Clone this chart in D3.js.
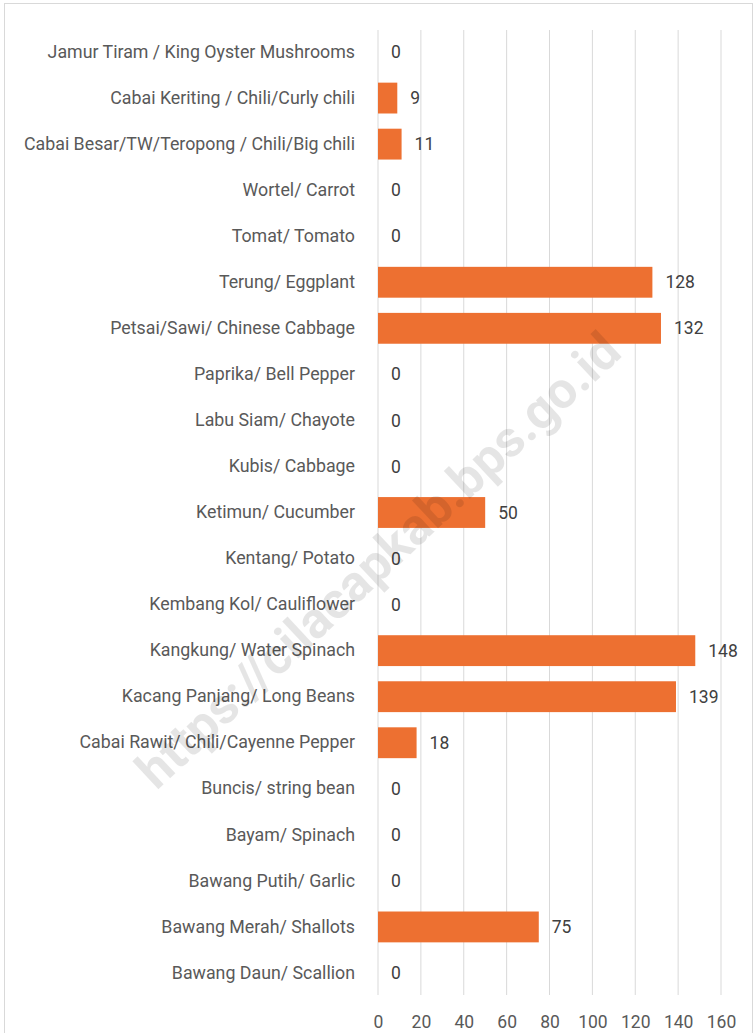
<!DOCTYPE html>
<html>
<head>
<meta charset="utf-8">
<script src="https://cdn.jsdelivr.net/npm/d3@7"></script>
<style>
  body { margin: 0; background: #fff; }
  text { font-family: Roboto, "Noto Sans", sans-serif; }
</style>
</head>
<body>
<svg id="chart" width="754" height="1033"></svg>
<script>
// categories from top to bottom
var categories = [
  "Jamur Tiram / King Oyster Mushrooms",
  "Cabai Keriting / Chili/Curly chili",
  "Cabai Besar/TW/Teropong / Chili/Big chili",
  "Wortel/ Carrot",
  "Tomat/ Tomato",
  "Terung/ Eggplant",
  "Petsai/Sawi/ Chinese Cabbage",
  "Paprika/ Bell Pepper",
  "Labu Siam/ Chayote",
  "Kubis/ Cabbage",
  "Ketimun/ Cucumber",
  "Kentang/ Potato",
  "Kembang Kol/ Cauliflower",
  "Kangkung/ Water Spinach",
  "Kacang Panjang/ Long Beans",
  "Cabai Rawit/ Chili/Cayenne Pepper",
  "Buncis/ string bean",
  "Bayam/ Spinach",
  "Bawang Putih/ Garlic",
  "Bawang Merah/ Shallots",
  "Bawang Daun/ Scallion"
];
var values = [0, 9, 11, 0, 0, 128, 132, 0, 0, 0, 50, 0, 0, 148, 139, 18, 0, 0, 0, 75, 0];
var xTicks = [0, 20, 40, 60, 80, 100, 120, 140, 160];
var watermark = "https://cilacapkab.bps.go.id";

var svg = d3.select("#chart");

// outer frame
svg.append("rect")
  .attr("x", 4.5).attr("y", 3.5)
  .attr("width", 748).attr("height", 1040)
  .attr("fill", "none")
  .attr("stroke", "#d9d9d9");

var x = d3.scaleLinear().domain([0, 160]).range([378, 721]);
var y = d3.scaleBand().domain(categories).range([29, 996]).paddingInner(0.33).paddingOuter(0.165);

// gridlines
svg.append("g")
  .selectAll("line")
  .data(xTicks)
  .enter()
  .append("line")
  .attr("x1", function(d){ return x(d); })
  .attr("x2", function(d){ return x(d); })
  .attr("y1", 30)
  .attr("y2", 995)
  .attr("stroke", "#d9d9d9")
  .attr("stroke-width", 1);

// x axis labels
var xAxis = svg.append("g")
  .attr("transform", "translate(0,1016)")
  .call(d3.axisBottom(x).tickValues(xTicks).tickSize(0).tickPadding(0));
xAxis.select(".domain").remove();
xAxis.selectAll("text")
  .attr("font-size", 17.5)
  .attr("fill", "#595959")
  .attr("dy", "0.71em")
  .style("font-family", "Roboto, sans-serif");

// category labels
var yAxis = svg.append("g")
  .attr("transform", "translate(355,0)")
  .call(d3.axisLeft(y).tickSize(0).tickPadding(0));
yAxis.select(".domain").remove();
yAxis.selectAll("text")
  .attr("font-size", 17.8)
  .attr("fill", "#595959")
  .style("font-family", "Roboto, sans-serif");

// bars
svg.append("g")
  .selectAll("rect")
  .data(values)
  .enter()
  .append("rect")
  .attr("x", x(0))
  .attr("y", function(d, i){ return y(categories[i]); })
  .attr("width", function(d){ return x(d) - x(0); })
  .attr("height", y.bandwidth())
  .attr("fill", "#ED7031");

// value labels
svg.append("g")
  .selectAll("text")
  .data(values)
  .enter()
  .append("text")
  .attr("x", function(d){ return x(d) + 13; })
  .attr("y", function(d, i){ return y(categories[i]) + y.bandwidth() / 2; })
  .attr("dy", "0.35em")
  .attr("font-size", 17.5)
  .attr("fill", "#404040")
  .text(function(d){ return d; });

// watermark
svg.append("text")
  .attr("transform", "translate(378,560) rotate(-43)")
  .attr("text-anchor", "middle")
  .attr("dy", "0.35em")
  .attr("font-size", 51)
  .attr("font-weight", "bold")
  .attr("fill", "#000")
  .attr("fill-opacity", 0.1)
  .text(watermark);
</script>
</body>
</html>
